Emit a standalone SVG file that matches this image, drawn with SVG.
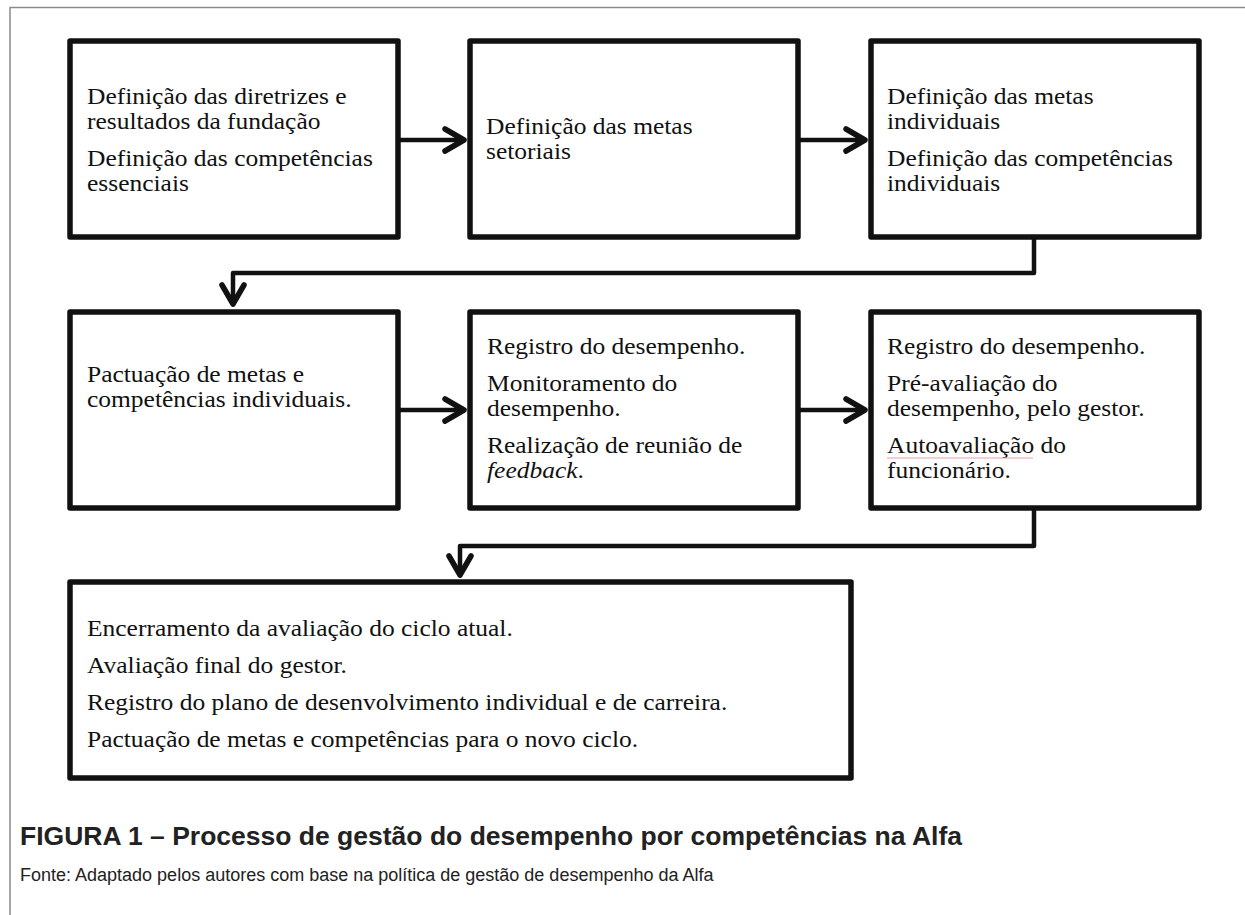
<svg xmlns="http://www.w3.org/2000/svg" width="1245" height="915" viewBox="0 0 1245 915">
<style>
.box{fill:#fff;stroke:#111;stroke-width:5.5;stroke-linejoin:round}
.t{font-family:"Liberation Serif","Times New Roman",serif;font-size:23.5px;fill:#111}
.conn{fill:none;stroke:#111;stroke-width:4.5;stroke-linejoin:round}
.cap{font-family:"Liberation Sans",Arial,sans-serif;fill:#222}
</style>
<defs>
<marker id="arr" markerUnits="userSpaceOnUse" markerWidth="30" markerHeight="30" refX="0" refY="0" orient="auto" overflow="visible">
<path d="M-19,-11 L0,0 L-19,11" fill="none" stroke="#111" stroke-width="5.5" stroke-linecap="round" stroke-linejoin="round"/>
</marker>
</defs>
<rect width="1245" height="915" fill="#fff"/>
<path d="M10,915 V7.5 H1245" fill="none" stroke="#8a8a8a" stroke-width="1.5"/>
<g id="connectors">
<line class="conn" x1="398" y1="140" x2="464" y2="140" marker-end="url(#arr)"/>
<line class="conn" x1="798" y1="140" x2="865" y2="140" marker-end="url(#arr)"/>
<path class="conn" d="M1034,237 V273 H233 V304" marker-end="url(#arr)"/>
<line class="conn" x1="398" y1="410" x2="464" y2="410" marker-end="url(#arr)"/>
<line class="conn" x1="798" y1="410" x2="865" y2="410" marker-end="url(#arr)"/>
<path class="conn" d="M1034,508 V546 H460 V575" marker-end="url(#arr)"/>
</g>
<g id="node1">
<rect class="box" x="70" y="41" width="328" height="196"/>
<g transform="translate(87 0) scale(1.085 1)">
<text class="t" x="0" y="104">Definição das diretrizes e</text>
<text class="t" x="0" y="129">resultados da fundação</text>
<text class="t" x="0" y="166">Definição das competências</text>
<text class="t" x="0" y="191">essenciais</text>
</g>
</g>
<g id="node2">
<rect class="box" x="470" y="41" width="328" height="196"/>
<g transform="translate(486 0) scale(1.085 1)">
<text class="t" x="0" y="134">Definição das metas</text>
<text class="t" x="0" y="159">setoriais</text>
</g>
</g>
<g id="node3">
<rect class="box" x="871" y="41" width="328" height="196"/>
<g transform="translate(887 0) scale(1.085 1)">
<text class="t" x="0" y="104">Definição das metas</text>
<text class="t" x="0" y="129">individuais</text>
<text class="t" x="0" y="166">Definição das competências</text>
<text class="t" x="0" y="191">individuais</text>
</g>
</g>
<g id="node4">
<rect class="box" x="70" y="312" width="328" height="196"/>
<g transform="translate(87 0) scale(1.085 1)">
<text class="t" x="0" y="382">Pactuação de metas e</text>
<text class="t" x="0" y="407">competências individuais.</text>
</g>
</g>
<g id="node5">
<rect class="box" x="470" y="312" width="328" height="196"/>
<g transform="translate(487 0) scale(1.085 1)">
<text class="t" x="0" y="354">Registro do desempenho.</text>
<text class="t" x="0" y="391">Monitoramento do</text>
<text class="t" x="0" y="416">desempenho.</text>
<text class="t" x="0" y="453">Realização de reunião de</text>
<text class="t" x="0" y="478"><tspan font-style="italic">feedback</tspan>.</text>
</g>
</g>
<g id="node6">
<rect class="box" x="871" y="312" width="328" height="196"/>
<g transform="translate(887 0) scale(1.085 1)">
<text class="t" x="0" y="354">Registro do desempenho.</text>
<text class="t" x="0" y="391">Pré-avaliação do</text>
<text class="t" x="0" y="416">desempenho, pelo gestor.</text>
<text class="t" x="0" y="453">Autoavaliação do</text>
<text class="t" x="0" y="478">funcionário.</text>
</g>
<line x1="887" y1="458" x2="1033" y2="458" stroke="#e5a0a8" stroke-width="1"/>
</g>
<g id="node7">
<rect class="box" x="70" y="582" width="781" height="196"/>
<g transform="translate(87 0) scale(1.085 1)">
<text class="t" x="0" y="636">Encerramento da avaliação do ciclo atual.</text>
<text class="t" x="0" y="673">Avaliação final do gestor.</text>
<text class="t" x="0" y="710">Registro do plano de desenvolvimento individual e de carreira.</text>
<text class="t" x="0" y="747">Pactuação de metas e competências para o novo ciclo.</text>
</g>
</g>
<text class="cap" x="20" y="845" font-size="26.5" font-weight="bold">FIGURA 1 – Processo de gestão do desempenho por competências na Alfa</text>
<text class="cap" x="20" y="881" font-size="18">Fonte: Adaptado pelos autores com base na política de gestão de desempenho da Alfa</text>
</svg>
